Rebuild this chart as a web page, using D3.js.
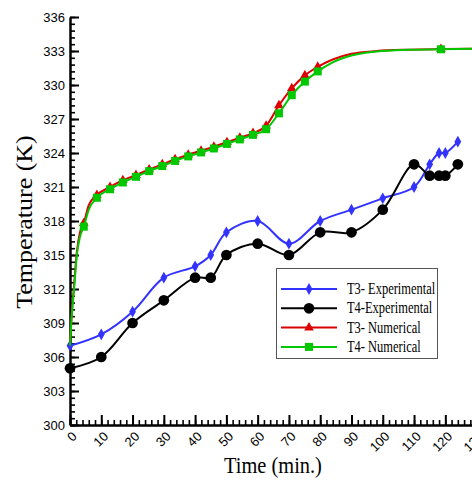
<!DOCTYPE html>
<html>
<head>
<meta charset="utf-8">
<script src="https://cdn.jsdelivr.net/npm/d3@7"></script>
<style>
  body { margin: 0; background: #fff; }
  #chart { width: 472px; height: 483px; }
  .tick text { font-family: "Liberation Sans", Arial, sans-serif; font-size: 13px; fill: #000; }
  .serif { font-family: "Liberation Serif", "Times New Roman", serif; fill: #000; }
</style>
</head>
<body>
<div id="chart"></div>
<script>
// experimental readings (time in min, temperature in K)
var expTime = [0, 10, 20, 30, 40, 45, 50, 60, 70, 80, 90, 100, 110, 115, 118, 120, 124];
var t3Exp = [307, 308, 310, 313, 314, 315, 317, 318, 316, 318, 319, 320, 321, 323, 324, 324, 325];
var t4Exp = [305, 306, 309, 311, 313, 313, 315, 316, 315, 317, 317, 319, 323, 322, 322, 322, 323];

// numerical results
var numTime = [0, 0.5, 1.3, 2.2, 3.2, 4.4, 6, 8.6, 12.8, 16.9, 21.1, 25.3, 29.5, 33.6, 37.8, 41.9, 46, 50.2, 54.3, 58.5, 62.7, 66.8, 70.9, 75.1, 79.2, 84, 90, 98, 108, 118.6, 130];
var t3Num = [307, 309.6, 312.3, 315.3, 317, 317.8, 319.4, 320.3, 321.0, 321.6, 322.05, 322.55, 323.0, 323.45, 323.85, 324.2, 324.55, 324.95, 325.35, 325.75, 326.4, 328.2, 329.7, 330.85, 331.6, 332.25, 332.75, 333.0, 333.12, 333.17, 333.2];
var t4Num = [307, 309.4, 312, 315, 316.6, 317.5, 319, 320.05, 320.8, 321.4, 321.9, 322.4, 322.85, 323.3, 323.7, 324.05, 324.4, 324.8, 325.2, 325.6, 326.1, 327.5, 329.1, 330.3, 331.2, 332, 332.6, 332.95, 333.1, 333.15, 333.2];
var numMarkTime = [4.4, 8.6, 12.8, 16.9, 21.1, 25.3, 29.5, 33.6, 37.8, 41.9, 46, 50.2, 54.3, 58.5, 62.7, 66.8, 70.9, 75.1, 79.2, 118.6];

var xTicks = [0, 10, 20, 30, 40, 50, 60, 70, 80, 90, 100, 110, 120, 130];
var yTicks = [300, 303, 306, 309, 312, 315, 318, 321, 324, 327, 330, 333, 336];

var w = 472, h = 483;
var svg = d3.select("#chart").append("svg")
    .attr("width", w)
    .attr("height", h);

var x = d3.scaleLinear().domain([0, 130]).range([70, 476.6]);
var y = d3.scaleLinear().domain([300, 336]).range([425, 17]);

// minor ticks
svg.append("g")
    .attr("transform", "translate(0,425)")
    .call(d3.axisBottom(x).tickValues(d3.range(0, 131, 2)).tickSize(-5).tickSizeOuter(0).tickFormat(""))
    .call(g => g.select(".domain").remove())
    .selectAll("line").attr("stroke-width", 1.6);
svg.append("g")
    .attr("transform", "translate(70,0)")
    .call(d3.axisLeft(y).tickValues(d3.range(300, 336.1, 0.6)).tickSize(-5).tickSizeOuter(0).tickFormat(""))
    .call(g => g.select(".domain").remove())
    .selectAll("line").attr("stroke-width", 1.6);

// major axes
var xAxis = svg.append("g")
    .attr("transform", "translate(0,425)")
    .call(d3.axisBottom(x).tickValues(xTicks).tickSize(-10).tickSizeOuter(0).tickFormat(d3.format("d")));
xAxis.selectAll("line").attr("stroke-width", 2);
xAxis.select(".domain").attr("stroke-width", 2.5);
xAxis.selectAll("text")
    .attr("text-anchor", "end")
    .attr("y", 0)
    .attr("dy", "0.35em")
    .attr("transform", "translate(4,9) rotate(-45)");

var yAxis = svg.append("g")
    .attr("transform", "translate(70,0)")
    .call(d3.axisLeft(y).tickValues(yTicks).tickSize(-9).tickPadding(5).tickSizeOuter(0));
yAxis.selectAll("line").attr("stroke-width", 2);
yAxis.select(".domain").attr("stroke-width", 2.5);

// axis titles
svg.append("text").attr("class", "serif")
    .attr("transform", "translate(273,473) scale(0.85,1)")
    .attr("text-anchor", "middle")
    .style("font-size", "24px")
    .text("Time (min.)");
svg.append("text").attr("class", "serif")
    .attr("transform", "translate(32,222) rotate(-90) scale(1,0.85)")
    .attr("text-anchor", "middle")
    .style("font-size", "26px")
    .text("Temperature (K)");

var curveLine = d3.line()
    .x(d => x(d[0]))
    .y(d => y(d[1]))
    .curve(d3.curveCatmullRom.alpha(0.5));

var numLine = d3.line()
    .x(d => x(d[0]))
    .y(d => y(d[1]))
    .curve(d3.curveMonotoneX);

var blue = "#3333ff", red = "#dd0000", green = "#00c800";

var t3ExpData = expTime.map((t, i) => [t, t3Exp[i]]);
var t4ExpData = expTime.map((t, i) => [t, t4Exp[i]]);
var t3NumData = numTime.map((t, i) => [t, t3Num[i]]);
var t4NumData = numTime.map((t, i) => [t, t4Num[i]]);

var diamond = d3.symbol().type(d3.symbolDiamond).size(40);
var circle = d3.symbol().type(d3.symbolCircle).size(90);
var triangle = d3.symbol().type(d3.symbolTriangle).size(40);
var square = d3.symbol().type(d3.symbolSquare).size(64);

function drawSeries(data, color, line, sym, marks) {
  svg.append("path")
      .attr("d", line(data))
      .attr("fill", "none")
      .attr("stroke", color)
      .attr("stroke-width", 2);
  svg.append("g").selectAll("path")
    .data(marks)
    .join("path")
      .attr("d", sym)
      .attr("transform", d => "translate(" + x(d[0]) + "," + y(d[1]) + ")")
      .attr("fill", color);
}

drawSeries(t3ExpData, blue, curveLine, diamond, t3ExpData);
drawSeries(t4ExpData, "#000", curveLine, circle, t4ExpData);
drawSeries(t3NumData, red, numLine, triangle, t3NumData.filter(d => numMarkTime.indexOf(d[0]) >= 0));
drawSeries(t4NumData, green, numLine, square, t4NumData.filter(d => numMarkTime.indexOf(d[0]) >= 0));

// legend
var legendItems = [
  { name: "T3- Experimental", color: blue, sym: diamond },
  { name: "T4-Experimental", color: "#000", sym: circle },
  { name: "T3- Numerical", color: red, sym: triangle },
  { name: "T4- Numerical", color: green, sym: square }
];
var legend = svg.append("g");
legend.append("rect")
    .attr("x", 276.5).attr("y", 268.5)
    .attr("width", 161).attr("height", 90)
    .attr("fill", "#fff")
    .attr("stroke", "#555")
    .attr("stroke-width", 1);
legendItems.forEach(function(it, i) {
  var ly = 289 + i * 19.3;
  legend.append("line")
      .attr("x1", 281).attr("x2", 337)
      .attr("y1", ly).attr("y2", ly)
      .attr("stroke", it.color).attr("stroke-width", 2);
  legend.append("path")
      .attr("d", it.sym)
      .attr("transform", "translate(309," + ly + ")")
      .attr("fill", it.color);
  legend.append("text").attr("class", "serif")
      .attr("transform", "translate(347," + (ly + 5) + ") scale(0.78,1)")
      .style("font-size", "16px")
      .text(it.name);
});
</script>
</body>
</html>
